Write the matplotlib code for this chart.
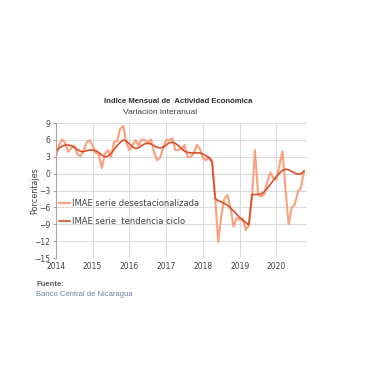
import matplotlib.pyplot as plt
import numpy as np

# Datos mensuales: enero 2014 - octubre 2020
years = ["2014", "2015", "2016", "2017", "2018", "2019", "2020"]

imae_desest = [
    3.0, 5.0, 6.1, 5.5, 3.9, 4.5, 5.0, 3.5, 3.1, 4.0, 5.5, 6.0,      # 2014
    5.0, 3.7, 3.5, 1.0, 3.5, 4.2, 3.0, 5.6, 5.8, 8.0, 8.5, 5.5,      # 2015
    4.2, 5.0, 6.0, 5.0, 6.1, 6.0, 5.5, 6.1, 4.0, 2.4, 2.8, 4.5,      # 2016
    6.0, 6.0, 6.3, 4.2, 4.2, 4.5, 5.1, 3.0, 3.0, 3.6, 5.1, 4.5,      # 2017
    2.8, 2.4, 3.0, 2.4, -4.1, -12.2, -7.5, -4.5, -3.8, -6.0, -9.4, -7.9,  # 2018
    -8.2, -7.9, -10.0, -9.2, -4.5, 4.2, -3.5, -4.1, -3.7, -1.5, 0.2, -0.8,  # 2019
    -1.0, 1.5, 4.0, -3.0, -9.0, -6.0, -5.5, -3.2, -2.5, 0.5,          # 2020
]

imae_tendencia = [
    3.9, 4.5, 4.9, 5.1, 5.1, 5.0, 4.7, 4.3, 4.0, 3.9, 4.1, 4.2,
    4.2, 4.1, 3.8, 3.3, 3.0, 3.1, 3.6, 4.3, 5.0, 5.6, 6.0, 5.8,
    5.3, 4.8, 4.5, 4.6, 5.0, 5.3, 5.4, 5.3, 5.0, 4.7, 4.6, 4.7,
    5.1, 5.5, 5.6, 5.4, 5.0, 4.5, 4.0, 3.8, 3.7, 3.7, 3.7, 3.7,
    3.5, 3.2, 2.8, 2.0, -4.4, -4.8, -5.0, -5.3, -5.6, -6.1, -6.6, -7.2,
    -7.8, -8.3, -8.7, -9.1, -3.7, -3.7, -3.7, -3.6, -3.2, -2.6, -1.9, -1.2,
    -0.5, 0.1, 0.6, 0.8, 0.7, 0.4, 0.1, -0.1, 0.0, 0.4,
]

meses = np.arange(len(imae_desest))

fig = plt.figure(figsize=(3.8, 3.8), dpi=100)
ax = fig.add_axes([0.147, 0.321, 0.661, 0.355])

ax.plot(meses, imae_desest, color="#FBA07C", lw=1.5, label="IMAE serie desestacionalizada")
ax.plot(meses, imae_tendencia, color="#D9502A", lw=1.2, label="IMAE serie  tendencia ciclo")

ax.set_xlim(0, 82)
ax.set_ylim(-15, 9)
ax.set_yticks(np.arange(-15, 10, 3))
ax.set_xticks(np.arange(0, 12 * len(years), 12))
ax.set_xticklabels(years)

ax.grid(True, color="#D9D9D9", lw=0.7)
ax.axhline(0, color="#A6A6A6", lw=0.8, zorder=1)
for s in ["top", "right", "bottom"]:
    ax.spines[s].set_visible(False)
ax.spines["left"].set_color("#A6A6A6")
ax.spines["left"].set_linewidth(0.8)
ax.tick_params(axis="both", labelsize=5.5, colors="#404040", length=0, pad=3)
ax.tick_params(axis="y", length=2, color="#A6A6A6", direction="out", pad=2)

ax.set_ylabel("Porcentajes", fontsize=5.8, color="#404040")
ax.yaxis.set_label_coords(-0.068, 0.5)

ax.legend(loc="upper left", bbox_to_anchor=(0.012, 0.438), frameon=False,
          fontsize=6, handlelength=1.3, handletextpad=0.3, labelspacing=1.05,
          borderpad=0, borderaxespad=0, labelcolor="#404040")

fig.text(0.468, 0.734, "Indice Mensual de  Actividad Económica", fontsize=5.6,
         fontweight="bold", ha="center", va="center", color="#303030",
         family="Liberation Sans")
fig.text(0.421, 0.705, "Variación interanual", fontsize=6.0,
         ha="center", va="center", color="#404040", family="Liberation Sans")

fig.text(0.095, 0.250, "Fuente:", fontsize=5.5, fontweight="bold", color="#595959",
         va="center", family="Liberation Sans")
fig.text(0.095, 0.224, "Banco Central de Nicaragua", fontsize=5.5, color="#6D7FA0",
         va="center", family="Liberation Sans")

fig.savefig("out.png", dpi=100, facecolor="white")
